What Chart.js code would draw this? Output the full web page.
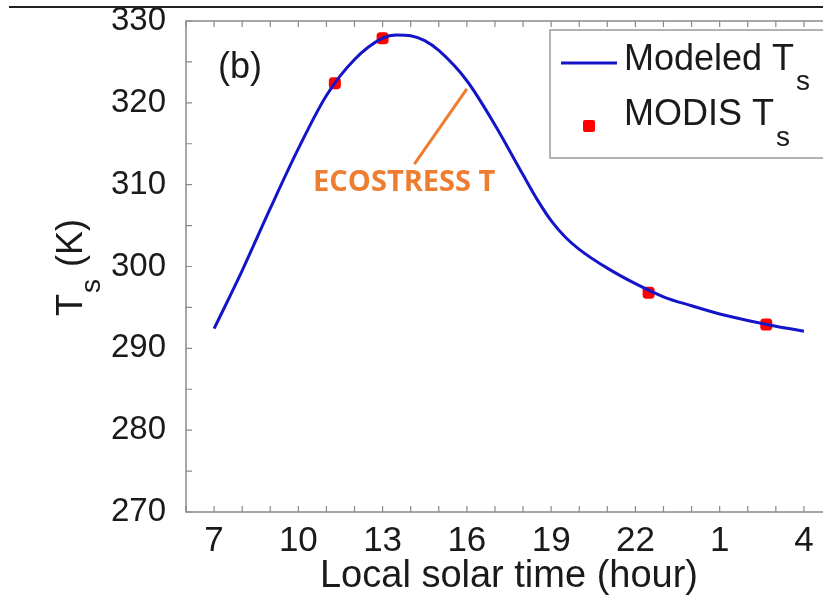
<!DOCTYPE html>
<html>
<head>
<meta charset="utf-8">
<script src="https://cdn.jsdelivr.net/npm/chart.js@4.4.1/dist/chart.umd.min.js"></script>
<style>
  html, body { margin: 0; padding: 0; background: #fff; overflow: hidden; width: 823px; height: 599px; }
  #wrap { position: absolute; left: 0; top: 0; width: 850px; height: 599px; }
</style>
</head>
<body>
<div id="wrap"><canvas id="c" width="850" height="599"></canvas></div>
<script>
// ---- data ----
const modelHours = [7, 8, 9, 10, 11, 12, 13, 13.5, 14, 14.5, 15, 16, 17, 18, 18.5, 19, 19.5, 20, 21, 22, 23, 24, 25, 26, 27, 28];
const modeledTs  = [292.4, 299.5, 307.1, 314.4, 320.9, 325.3, 327.9, 328.3, 328.2, 327.6, 326.4, 322.7, 317.3, 311.2, 308.2, 305.6, 303.6, 302.1, 299.8, 297.9, 296.3, 295.2, 294.2, 293.4, 292.7, 292.1];
const modisHours = [11.3, 13.0, 22.47, 26.66];
const modisTs    = [322.4, 327.9, 296.8, 292.9];
const xTickValues = [7, 10, 13, 16, 19, 22, 25, 28];
const xTickLabels = ['7', '10', '13', '16', '19', '22', '1', '4'];
const yTickValues = [270, 280, 290, 300, 310, 320, 330];
const ecostressAnchor = {x: 16.0, y: 321.7};
const ecostressTail   = {x: 14.13, y: 312.5};
const ecostressLabel  = {x: 13.77, y: 310.2, text: 'ECOSTRESS T'};

const FONT = '"Liberation Sans", Arial, sans-serif';
const TXT = '#1a1a1a';
const AXIS = '#8a8a8a';

const decor = {
  id: 'decor',
  beforeDatasetsDraw(chart) {
    const {ctx, chartArea: a, scales: {x, y}} = chart;
    ctx.save();
    ctx.strokeStyle = AXIS;
    ctx.lineWidth = 1.5;
    ctx.strokeRect(a.left, a.top, a.right - a.left, a.bottom - a.top);
    ctx.lineWidth = 1.2;
    ctx.beginPath();
    for (let h = Math.ceil(x.min); h <= x.max; h++) {
      const px = x.getPixelForValue(h);
      ctx.moveTo(px, a.bottom); ctx.lineTo(px, a.bottom - 6);
      ctx.moveTo(px, a.top); ctx.lineTo(px, a.top + 6);
    }
    for (let v = y.min; v <= y.max; v += 5) {
      const py = y.getPixelForValue(v);
      ctx.moveTo(a.left, py); ctx.lineTo(a.left + 6, py);
      ctx.moveTo(a.right, py); ctx.lineTo(a.right - 6, py);
    }
    ctx.stroke();
    ctx.restore();
  },
  afterDatasetsDraw(chart) {
    const {ctx, scales: {x, y}} = chart;
    ctx.save();
    // ECOSTRESS annotation
    ctx.strokeStyle = '#ED7D31';
    ctx.lineWidth = 3;
    ctx.beginPath();
    ctx.moveTo(x.getPixelForValue(ecostressAnchor.x), y.getPixelForValue(ecostressAnchor.y));
    ctx.lineTo(x.getPixelForValue(ecostressTail.x), y.getPixelForValue(ecostressTail.y));
    ctx.stroke();
    ctx.fillStyle = '#ED7D31';
    ctx.font = 'bold 29px "Open Sans", sans-serif';
    ctx.textAlign = 'center';
    ctx.textBaseline = 'middle';
    ctx.fillText(ecostressLabel.text, x.getPixelForValue(ecostressLabel.x), y.getPixelForValue(ecostressLabel.y));
    // (b)
    ctx.fillStyle = TXT;
    ctx.font = '36px ' + FONT;
    ctx.textAlign = 'left';
    ctx.textBaseline = 'alphabetic';
    ctx.fillText('(b)', 218, 78);
    // legend
    ctx.fillStyle = '#fff';
    ctx.fillRect(550, 30, 320, 128);
    ctx.strokeStyle = '#9a9a9a';
    ctx.lineWidth = 1.5;
    ctx.strokeRect(550, 30, 320, 128);
    ctx.strokeStyle = '#1414c8';
    ctx.lineWidth = 3;
    ctx.beginPath(); ctx.moveTo(561, 63); ctx.lineTo(617, 63); ctx.stroke();
    ctx.fillStyle = '#ff0000';
    ctx.beginPath(); ctx.roundRect(583, 120, 12, 12, 2); ctx.fill();
    ctx.fillStyle = TXT;
    ctx.font = '36px ' + FONT;
    ctx.fillText('Modeled T', 624, 70);
    let w = ctx.measureText('Modeled T').width;
    ctx.font = '28px ' + FONT;
    ctx.fillText('s', 624 + w + 2, 90);
    ctx.font = '36px ' + FONT;
    ctx.fillText('MODIS T', 624, 125);
    w = ctx.measureText('MODIS T').width;
    ctx.font = '28px ' + FONT;
    ctx.fillText('s', 624 + w + 2, 146);
    // y title
    ctx.translate(82, 316);
    ctx.rotate(-Math.PI / 2);
    ctx.font = '36px ' + FONT;
    ctx.fillText('T', 0, 0);
    const wt = ctx.measureText('T').width;
    ctx.font = '28px ' + FONT;
    ctx.fillText('s', wt + 1, 18);
    const ws = ctx.measureText('s').width;
    ctx.font = '36px ' + FONT;
    ctx.fillText(' (K)', wt + ws + 3, 0);
    ctx.restore();
  },
  afterDraw(chart) {
    const {ctx} = chart;
    ctx.save();
    ctx.strokeStyle = '#222';
    ctx.lineWidth = 2;
    ctx.beginPath(); ctx.moveTo(9, 7); ctx.lineTo(850, 7); ctx.stroke();
    ctx.restore();
  }
};

new Chart(document.getElementById('c'), {
  data: {
    datasets: [
      {
        type: 'line',
        label: 'Modeled Ts',
        data: modelHours.map((h, i) => ({x: h, y: modeledTs[i]})),
        borderColor: '#1414c8',
        borderWidth: 3,
        pointRadius: 0,
        cubicInterpolationMode: 'monotone',
        fill: false
      },
      {
        type: 'scatter',
        label: 'MODIS Ts',
        data: modisHours.map((h, i) => ({x: h, y: modisTs[i]})),
        pointStyle: 'rectRounded',
        pointRadius: 7,
        backgroundColor: '#ff0000',
        borderWidth: 0
      }
    ]
  },
  options: {
    responsive: false,
    animation: false,
    devicePixelRatio: 1,
    layout: {padding: {top: 21, right: 18, left: 0, bottom: 0}},
    plugins: {legend: {display: false}, tooltip: {enabled: false}},
    scales: {
      x: {
        type: 'linear', min: 6, max: 29,
        grid: {display: false},
        border: {display: false},
        afterFit(s) { s.height = 87; s.paddingLeft = 0; s.paddingRight = 0; },
        afterBuildTicks(s) { s.ticks = xTickValues.map(v => ({value: v})); },
        ticks: {
          autoSkip: false, maxRotation: 0, padding: 0,
          color: TXT, font: {family: FONT, size: 35},
          callback: (v) => xTickLabels[xTickValues.indexOf(v)]
        },
        title: {display: true, text: 'Local solar time (hour)', color: TXT,
                font: {family: FONT, size: 38}, padding: {top: 0, bottom: 0}}
      },
      y: {
        type: 'linear', min: 270, max: 330,
        grid: {display: false},
        border: {display: false},
        afterFit(s) { s.width = 186; s.paddingTop = 0; s.paddingBottom = 0; },
        afterBuildTicks(s) { s.ticks = yTickValues.map(v => ({value: v})); },
        ticks: {padding: 12, color: TXT, font: {family: FONT, size: 33}}
      }
    }
  },
  plugins: [decor]
});
</script>
</body>
</html>
